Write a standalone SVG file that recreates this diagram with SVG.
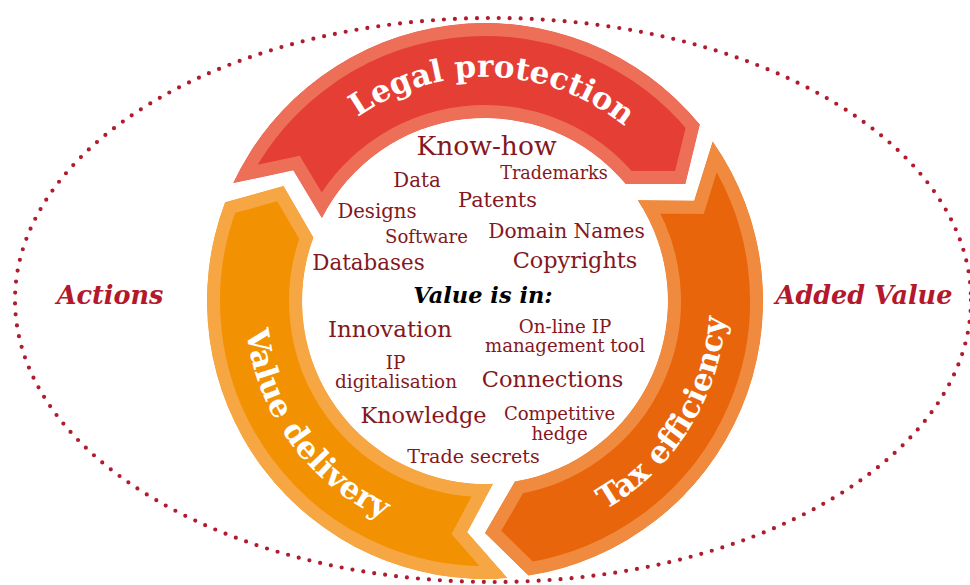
<svg xmlns="http://www.w3.org/2000/svg" xmlns:xlink="http://www.w3.org/1999/xlink" width="970" height="585" viewBox="0 0 970 585">
<style>
.item{font-family:"DejaVu Serif","Liberation Serif",serif;fill:#841720;text-anchor:middle}
.band{font-family:"DejaVu Serif","Liberation Serif",serif;font-weight:bold;fill:#ffffff;font-size:31px}
.side{font-family:"DejaVu Serif","Liberation Serif",serif;font-weight:bold;font-style:italic;fill:#b3182c;font-size:25.5px;text-anchor:middle}
.head{font-family:"DejaVu Serif","Liberation Serif",serif;font-weight:bold;font-style:italic;fill:#000000;font-size:22.5px;text-anchor:middle}
</style>
<defs>
<path id="shape-red" d="M233.2,183.1 A278,278 0 0 1 699.8,124.6 L685.3,184 L625.8,184.1 A183,183 0 0 0 321.9,217.9 L293.3,170.3 Z"/>
<path id="shape-orange" d="M712.7,141.5 A278,278 0 0 1 528.5,575.6 L485,533 L514.9,481.5 A183,183 0 0 0 637.8,200.3 L694.2,200.8 Z"/>
<path id="shape-yellow" d="M507.3,578.1 A278,278 0 0 1 225.1,202.3 L283.5,186 L313.4,237.5 A183,183 0 0 0 493,483.8 L467.2,532.3 Z"/>
<clipPath id="clip-red"><path d="M233.2,183.1 A278,278 0 0 1 699.8,124.6 L685.3,184 L625.8,184.1 A183,183 0 0 0 321.9,217.9 L293.3,170.3 Z"/></clipPath>
<clipPath id="clip-orange"><path d="M712.7,141.5 A278,278 0 0 1 528.5,575.6 L485,533 L514.9,481.5 A183,183 0 0 0 637.8,200.3 L694.2,200.8 Z"/></clipPath>
<clipPath id="clip-yellow"><path d="M507.3,578.1 A278,278 0 0 1 225.1,202.3 L283.5,186 L313.4,237.5 A183,183 0 0 0 493,483.8 L467.2,532.3 Z"/></clipPath>
<path id="arc-legal" d="M291.9,189.5 A222,222 0 0 1 685.4,203.2" fill="none"/>
<path id="arc-tax" d="M476.6,540.9 A239,239 0 0 0 696.9,188.3" fill="none"/>
<path id="arc-value" d="M265.8,203.4 A239,239 0 0 0 510.1,539.7" fill="none"/>
</defs>

<g id="outer-ellipse">
<ellipse cx="493" cy="300" rx="478" ry="282" fill="none" stroke="#b01c2e" stroke-width="4.2" stroke-linecap="round" stroke-dasharray="0 11"/>
</g>

<g id="legal-protection">
<use xlink:href="#shape-red" fill="#e53e35" stroke="#ee6f58" stroke-width="26" clip-path="url(#clip-red)"/>
<text class="band"><textPath xlink:href="#arc-legal" startOffset="50%" text-anchor="middle">Legal protection</textPath></text>
</g>

<g id="tax-efficiency">
<use xlink:href="#shape-orange" fill="#e8650c" stroke="#f08a3e" stroke-width="26" clip-path="url(#clip-orange)"/>
<text class="band"><textPath xlink:href="#arc-tax" startOffset="50%" text-anchor="middle">Tax efficiency</textPath></text>
</g>

<g id="value-delivery">
<use xlink:href="#shape-yellow" fill="#f29102" stroke="#f6a642" stroke-width="26" clip-path="url(#clip-yellow)"/>
<text class="band"><textPath xlink:href="#arc-value" startOffset="50%" text-anchor="middle">Value delivery</textPath></text>
</g>

<g id="actions"><text class="side" x="110" y="304">Actions</text></g>
<g id="added-value"><text class="side" x="864" y="304">Added Value</text></g>

<g id="value-items">
<text class="item" x="486.5" y="155" font-size="26.5">Know-how</text>
<text class="item" x="554" y="179" font-size="17.6">Trademarks</text>
<text class="item" x="417" y="187" font-size="19.8">Data</text>
<text class="item" x="497.5" y="207" font-size="20.9">Patents</text>
<text class="item" x="377" y="218" font-size="19.7">Designs</text>
<text class="item" x="426.5" y="243" font-size="18.1">Software</text>
<text class="item" x="566.5" y="238" font-size="20.2">Domain Names</text>
<text class="item" x="368.5" y="270" font-size="21.4">Databases</text>
<text class="item" x="575" y="268" font-size="22.4">Copyrights</text>
<text class="head" x="483" y="303">Value is in:</text>
<text class="item" x="390" y="337" font-size="22.9">Innovation</text>
<text class="item" x="565" y="333" font-size="18.3">On-line IP</text>
<text class="item" x="565" y="352" font-size="18.1">management tool</text>
<text class="item" x="395.5" y="369" font-size="18.4">IP</text>
<text class="item" x="396" y="388" font-size="18.4">digitalisation</text>
<text class="item" x="552.5" y="387" font-size="22.5">Connections</text>
<text class="item" x="423.5" y="423" font-size="22.4">Knowledge</text>
<text class="item" x="559.5" y="420" font-size="18.1">Competitive</text>
<text class="item" x="559.5" y="440" font-size="18.1">hedge</text>
<text class="item" x="473.5" y="463" font-size="19.1">Trade secrets</text>
</g>
</svg>
